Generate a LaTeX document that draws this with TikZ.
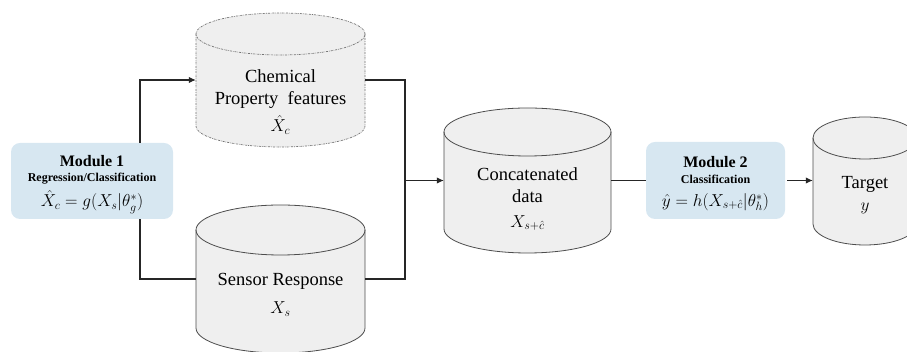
\documentclass[tikz,border=0pt]{standalone}
\usepackage{fontspec}
\setmainfont{Liberation Serif}
\usetikzlibrary{arrows.meta}
\definecolor{cylgray}{HTML}{EFEFEF}
\definecolor{cylborder}{HTML}{4D4D4D}
\definecolor{modblue}{HTML}{D7E7F1}
\tikzset{
  cylline/.style={draw=cylborder, line width=0.8pt},
  cyldash/.style={draw=black!55, line width=0.7pt, dash pattern=on 2pt off 1pt on 0.6pt off 1pt},
  modbox/.style={fill=modblue, rounded corners=9pt, inner sep=0pt},
  conn/.style={line width=1.1pt, draw=black!85},
  arr/.style={conn, -{Latex[length=7pt,width=6.5pt]}},
  txt/.style={font=\fontsize{18.5}{24}\selectfont, align=center, inner sep=0pt},
  modtitle/.style={font=\fontsize{16}{18}\selectfont\bfseries, inner sep=0pt},
  modsub/.style={font=\fontsize{12}{14}\selectfont\bfseries, inner sep=0pt},
  modmath/.style={font=\fontsize{17}{20}\selectfont, inner sep=0pt}
}
\newcommand\mycyl[7]{%
  \pgfmathsetmacro\cylXl{#2-#5}\pgfmathsetmacro\cylXr{#2+#5}%
  \pgfmathsetmacro\cylYt{352-#3}\pgfmathsetmacro\cylYb{352-#4}%
  \pgfmathsetmacro\cylYm{352-(#3+#4)/2}\pgfmathsetmacro\cylW{2*#5}\pgfmathsetmacro\cylH{#4-#3}%
  \fill[cylgray] (\cylXl,\cylYt) -- (\cylXl,\cylYb) arc[start angle=180,end angle=360,x radius=#5pt,y radius=#6pt] -- (\cylXr,\cylYt) arc[start angle=0,end angle=180,x radius=#5pt,y radius=#6pt] -- cycle;
  \draw[#7] (\cylXl,\cylYt) -- (\cylXl,\cylYb) arc[start angle=180,end angle=360,x radius=#5pt,y radius=#6pt] -- (\cylXr,\cylYt);
  \draw[#7] (#2,\cylYt) ellipse[x radius=#5pt,y radius=#6pt];
  \node[inner sep=0pt,minimum width=\cylW pt,minimum height=\cylH pt] (#1) at (#2,\cylYm) {};
}
\begin{document}
\begin{tikzpicture}[x=1pt,y=1pt]
\useasboundingbox (0,0) rectangle (907,352);
\clip (0,0) rectangle (907,352);
% cylinders
\mycyl{chem}{280.5}{34}{126}{84.5}{21}{cyldash}
\mycyl{sens}{280.5}{230}{328}{84.5}{25}{cylline}
\mycyl{conc}{527.5}{132}{229}{83.5}{24}{cylline}
\mycyl{tgt}{865}{138}{224}{52}{21}{cylline}
% modules
\node[modbox, minimum width=162pt, minimum height=76pt] (m1) at (92,171) {};
\node[modbox, minimum width=139pt, minimum height=77pt] (m2) at (715.5,171.5) {};
% texts
\node[modtitle] (m1a) at (92,191) {Module 1};
\node[modsub] (m1b) at (92,173) {Regression/Classification};
\node[modmath] (m1c) at (92,150) {$\hat{X}_c = g(X_s|\theta_g^{*})$};
\node[modtitle] (m2a) at (715.5,190) {Module 2};
\node[modsub] (m2b) at (715.5,172.5) {Classification};
\node[modmath] (m2c) at (715.5,150) {$\hat{y} = h(X_{s+\hat{c}}|\theta_h^{*})$};
\node[txt] (chemt1) at (280.5,276) {Chemical};
\node[txt] (chemt2) at (280.5,252) {Property\ \ features};
\node[txt] (chemt3) at (280.5,227) {$\hat{X}_c$};
\node[txt] (senst1) at (280.5,71) {Sensor Response};
\node[txt] (senst2) at (280.5,43) {$X_s$};
\node[txt] (conct1) at (527.5,178) {Concatenated};
\node[txt] (conct2) at (527.5,156) {data};
\node[txt] (conct3) at (527.5,129) {$X_{s+\hat{c}}$};
\node[txt] (tgtt1) at (865,168) {Target};
\node[txt] (tgtt2) at (865,144) {$y$};
% connectors
\coordinate (jx) at (405,171.5);
\draw[arr] ([xshift=48pt]m1.north) |- (chem.west);
\draw[conn] ([xshift=48pt]m1.south) |- (sens.west);
\draw[conn] (chem.east) -| (jx) |- (sens.east);
\draw[arr] (jx) -- (jx -| conc.west);
\draw[conn] (conc.east) -- (m2.west);
\draw[arr] ([xshift=2pt]m2.east) -- (m2.east -| tgt.west);
\end{tikzpicture}
\end{document}
